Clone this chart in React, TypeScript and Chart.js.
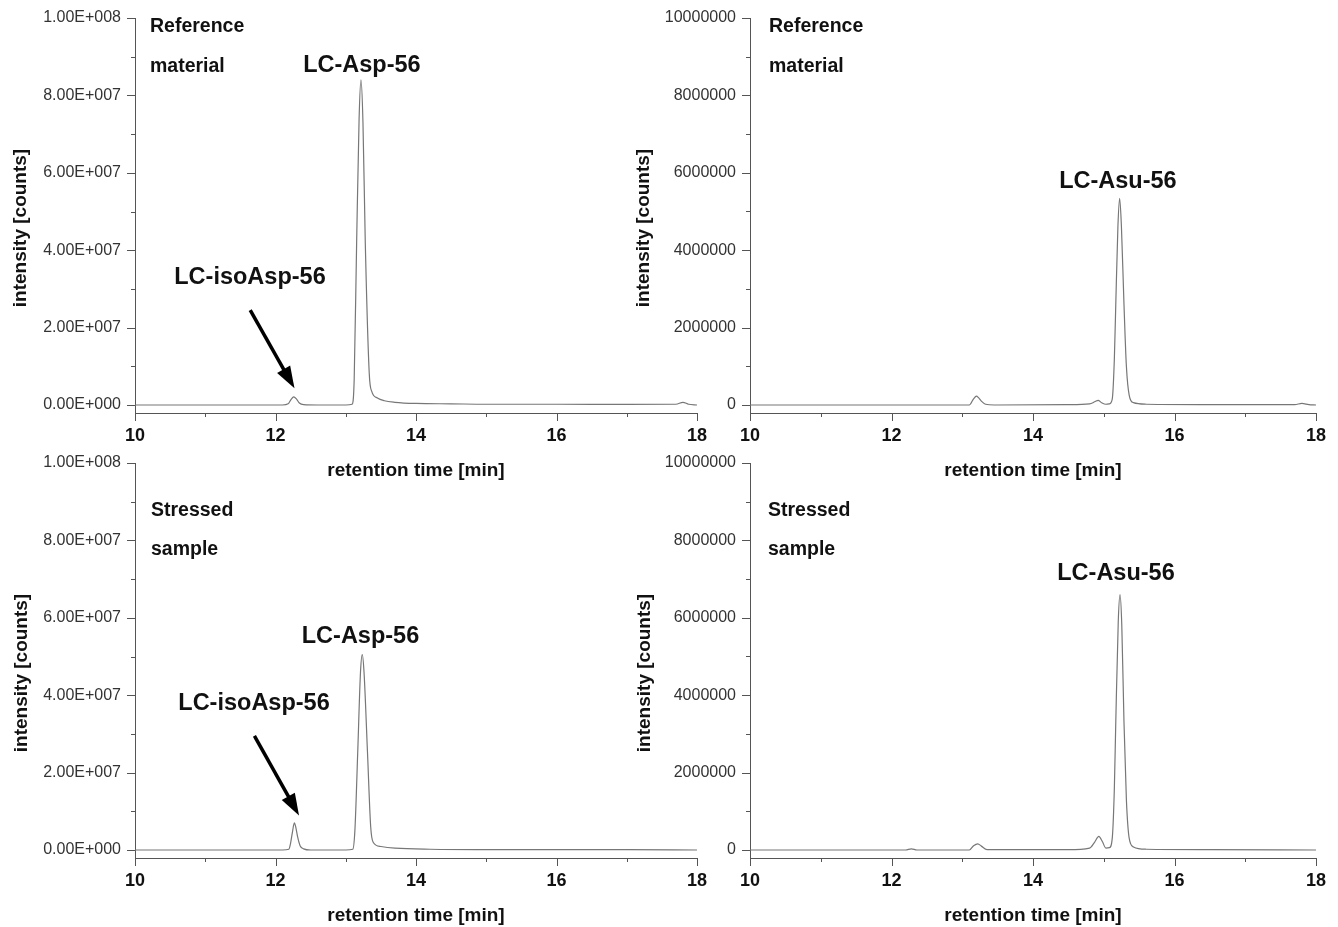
import { useEffect, useRef } from "react";
import { Chart, registerables } from "chart.js";

Chart.register(...registerables);

const FONT = "'Liberation Sans', Arial, Helvetica, sans-serif";
const AXIS_COLOR = "#555555";
const TRACE_COLOR = "#777777";
const TEXT_COLOR = "#111111";

// ---- axis ticks ----
const timeTicks = [10, 12, 14, 16, 18];
const timeMinorTicks = [11, 13, 15, 17];

const aspTickValues = [0, 2e7, 4e7, 6e7, 8e7, 1e8];
const aspTickLabels = ["0.00E+000", "2.00E+007", "4.00E+007", "6.00E+007", "8.00E+007", "1.00E+008"];
const aspMinorTicks = [1e7, 3e7, 5e7, 7e7, 9e7];

const asuTickValues = [0, 2e6, 4e6, 6e6, 8e6, 1e7];
const asuTickLabels = ["0", "2000000", "4000000", "6000000", "8000000", "10000000"];
const asuMinorTicks = [1e6, 3e6, 5e6, 7e6, 9e6];

const xTitle = "retention time [min]";
const yTitle = "intensity [counts]";
const sampleRef = ["Reference", "material"];
const sampleStressed = ["Stressed", "sample"];

// ---- Reference material, LC-Asp-56 trace ----
const refAspTime = [10, 11, 12.1, 12.18, 12.22, 12.26, 12.3, 12.34, 12.4, 12.6, 13.0, 13.09, 13.12, 13.155, 13.19, 13.217, 13.245, 13.278, 13.335, 13.37, 13.45, 13.55, 13.7, 14.0, 14.5, 15.0, 16.0, 17.0, 17.7, 17.8, 17.88, 18];
const refAspIntensity = [0, 0, 0, 3e5, 1.4e6, 2.1e6, 1.5e6, 5e5, 1e5, 0, 0, 2e5, 6.5e6, 4.2e7, 7.4e7, 8.4e7, 7.3e7, 4.2e7, 8e6, 3.5e6, 1.8e6, 1.1e6, 7e5, 4e5, 3e5, 2e5, 2e5, 1.5e5, 2e5, 7e5, 2e5, 0];

// ---- Reference material, LC-Asu-56 trace ----
const refAsuTime = [10, 12, 13.1, 13.16, 13.2, 13.23, 13.27, 13.33, 13.45, 14.5, 14.8, 14.88, 14.92, 14.97, 15.03, 15.08, 15.12, 15.15, 15.17, 15.2, 15.225, 15.25, 15.286, 15.32, 15.36, 15.42, 15.6, 16.5, 17.7, 17.8, 17.9, 18];
const refAsuIntensity = [0, 0, 0, 1.6e5, 2.3e5, 1.9e5, 1e5, 2e4, 0, 1e4, 3e4, 9e4, 1.2e5, 6e4, 2e4, 3e4, 1.5e5, 1.2e6, 2.6e6, 4.6e6, 5.34e6, 4.6e6, 2.6e6, 1e6, 2.5e5, 6e4, 2e4, 1e4, 1e4, 4e4, 1e4, 0];

// ---- Stressed sample, LC-Asp-56 trace ----
const strAspTime = [10, 11, 12.1, 12.19, 12.215, 12.24, 12.268, 12.29, 12.316, 12.35, 12.4, 12.5, 13.0, 13.1, 13.13, 13.17, 13.21, 13.235, 13.26, 13.31, 13.355, 13.39, 13.5, 13.7, 14.2, 15, 16, 17, 18];
const strAspIntensity = [0, 0, 0, 2e5, 1.8e6, 4.5e6, 7.0e6, 5.8e6, 3.3e6, 1.1e6, 3e5, 0, 0, 2e5, 5e6, 2.5e7, 4.6e7, 5.05e7, 4.6e7, 2.5e7, 6e6, 2e6, 9e5, 5e5, 2e5, 1e5, 1e5, 1e5, 0];

// ---- Stressed sample, LC-Asu-56 trace ----
const strAsuTime = [10, 12.2, 12.28, 12.36, 13.1, 13.16, 13.22, 13.27, 13.35, 14.5, 14.8, 14.87, 14.93, 14.98, 15.03, 15.08, 15.12, 15.15, 15.17, 15.205, 15.23, 15.255, 15.286, 15.32, 15.36, 15.42, 15.6, 16.5, 18];
const strAsuIntensity = [0, 0, 3e4, 0, 0, 1.1e5, 1.6e5, 1e5, 1e4, 1e4, 5e4, 2e5, 3.5e5, 2.2e5, 5e4, 6e4, 3e5, 1.6e6, 3.3e6, 5.9e6, 6.6e6, 5.8e6, 3.3e6, 1.3e6, 3e5, 8e4, 2e4, 1e4, 0];

// ---- peak annotations (time, intensity of text baseline) ----
const refAspLabels = [
  { text: "LC-Asp-56", t: 13.23, v: 8.6e7 },
  { text: "LC-isoAsp-56", t: 11.637, v: 3.13e7 },
];
const refAsuLabels = [{ text: "LC-Asu-56", t: 15.2, v: 5.61e6 }];
const strAspLabels = [
  { text: "LC-Asp-56", t: 13.21, v: 5.35e7 },
  { text: "LC-isoAsp-56", t: 11.694, v: 3.62e7 },
];
const strAsuLabels = [{ text: "LC-Asu-56", t: 15.173, v: 6.98e6 }];

const refAspArrow = { from: [11.64, 2.45e7], to: [12.27, 4.3e6] };
const strAspArrow = { from: [11.7, 2.95e7], to: [12.335, 8.9e6] };

const AREA_TOP = 18;
const AREA_BOTTOM = 413;
const ZERO_OFFSET = 8 / 387; // baseline sits slightly above x axis

type PanelDef = {
  left: number; top: number; width: number; height: number;
  areaLeft: number; areaRight: number;
  time: number[]; intensity: number[];
  yMax: number; yTickValues: number[]; yTickLabels: string[]; yMinor: number[];
  sample: string[]; sampleDx: number; sampleY: [number, number];
  peaks: { text: string; t: number; v: number }[];
  arrow: { from: number[]; to: number[] } | null;
  yTitleX: number;
};

const PANELS: PanelDef[] = [
  {
    left: 0, top: 0, width: 720, height: 485, areaLeft: 135, areaRight: 697,
    time: refAspTime, intensity: refAspIntensity,
    yMax: 1e8, yTickValues: aspTickValues, yTickLabels: aspTickLabels, yMinor: aspMinorTicks,
    sample: sampleRef, sampleDx: 15, sampleY: [14, 54],
    peaks: refAspLabels, arrow: refAspArrow, yTitleX: 21,
  },
  {
    left: 620, top: 0, width: 718, height: 485, areaLeft: 130, areaRight: 696,
    time: refAsuTime, intensity: refAsuIntensity,
    yMax: 1e7, yTickValues: asuTickValues, yTickLabels: asuTickLabels, yMinor: asuMinorTicks,
    sample: sampleRef, sampleDx: 19, sampleY: [14, 54],
    peaks: refAsuLabels, arrow: null, yTitleX: 24,
  },
  {
    left: 0, top: 445, width: 720, height: 482, areaLeft: 135, areaRight: 697,
    time: strAspTime, intensity: strAspIntensity,
    yMax: 1e8, yTickValues: aspTickValues, yTickLabels: aspTickLabels, yMinor: aspMinorTicks,
    sample: sampleStressed, sampleDx: 16, sampleY: [53, 92],
    peaks: strAspLabels, arrow: strAspArrow, yTitleX: 22,
  },
  {
    left: 620, top: 445, width: 718, height: 482, areaLeft: 130, areaRight: 696,
    time: strAsuTime, intensity: strAsuIntensity,
    yMax: 1e7, yTickValues: asuTickValues, yTickLabels: asuTickLabels, yMinor: asuMinorTicks,
    sample: sampleStressed, sampleDx: 18, sampleY: [53, 92],
    peaks: strAsuLabels, arrow: null, yTitleX: 25,
  },
];

function drawArrow(ctx: CanvasRenderingContext2D, x1: number, y1: number, x2: number, y2: number) {
  const dx = x2 - x1, dy = y2 - y1;
  const len = Math.hypot(dx, dy);
  const ux = dx / len, uy = dy / len;
  const headLen = 22, headHalf = 7.5;
  const bx = x2 - ux * headLen, by = y2 - uy * headLen;
  ctx.strokeStyle = "#000";
  ctx.fillStyle = "#000";
  ctx.lineWidth = 3.5;
  ctx.lineCap = "butt";
  ctx.beginPath();
  ctx.moveTo(x1, y1);
  ctx.lineTo(bx + ux * 3, by + uy * 3);
  ctx.stroke();
  ctx.beginPath();
  ctx.moveTo(x2, y2);
  ctx.lineTo(bx - uy * headHalf, by + ux * headHalf);
  ctx.lineTo(bx + uy * headHalf, by - ux * headHalf);
  ctx.closePath();
  ctx.fill();
}

function makeDecor(p: PanelDef) {
  return {
    id: "decor",
    afterDraw(chart: any) {
      const { ctx, chartArea, scales } = chart;
      const xs = scales.x, ys = scales.y;
      ctx.save();
      // tick marks
      ctx.strokeStyle = AXIS_COLOR;
      ctx.lineWidth = 1;
      ctx.beginPath();
      p.yTickValues.forEach((v) => {
        const py = Math.round(ys.getPixelForValue(v)) + 0.5;
        ctx.moveTo(chartArea.left - 8, py);
        ctx.lineTo(chartArea.left, py);
      });
      p.yMinor.forEach((v) => {
        const py = Math.round(ys.getPixelForValue(v)) + 0.5;
        ctx.moveTo(chartArea.left - 4, py);
        ctx.lineTo(chartArea.left, py);
      });
      timeTicks.forEach((v) => {
        const px = Math.round(xs.getPixelForValue(v)) + 0.5;
        ctx.moveTo(px, chartArea.bottom);
        ctx.lineTo(px, chartArea.bottom + 8);
      });
      timeMinorTicks.forEach((v) => {
        const px = Math.round(xs.getPixelForValue(v)) + 0.5;
        ctx.moveTo(px, chartArea.bottom);
        ctx.lineTo(px, chartArea.bottom + 4);
      });
      ctx.stroke();

      ctx.fillStyle = TEXT_COLOR;
      // axis titles
      ctx.font = `bold 19px ${FONT}`;
      ctx.textAlign = "center";
      ctx.textBaseline = "alphabetic";
      ctx.fillText(xTitle, (chartArea.left + chartArea.right) / 2, chartArea.bottom + 63);
      ctx.save();
      ctx.translate(p.yTitleX, (chartArea.top + chartArea.bottom) / 2 + 12.5);
      ctx.rotate(-Math.PI / 2);
      ctx.textBaseline = "middle";
      ctx.fillText(yTitle, 0, 0);
      ctx.restore();

      // sample labels
      ctx.font = `bold 19.5px ${FONT}`;
      ctx.textAlign = "left";
      ctx.textBaseline = "alphabetic";
      p.sample.forEach((s, i) => {
        ctx.fillText(s, chartArea.left + p.sampleDx, chartArea.top + p.sampleY[i]);
      });

      // peak labels
      ctx.font = `bold 23.5px ${FONT}`;
      ctx.textAlign = "center";
      p.peaks.forEach((pk) => {
        ctx.fillText(pk.text, xs.getPixelForValue(pk.t), ys.getPixelForValue(pk.v));
      });

      if (p.arrow) {
        drawArrow(
          ctx,
          xs.getPixelForValue(p.arrow.from[0]), ys.getPixelForValue(p.arrow.from[1]),
          xs.getPixelForValue(p.arrow.to[0]), ys.getPixelForValue(p.arrow.to[1])
        );
      }
      ctx.restore();
    },
  };
}

function Panel({ p }: { p: PanelDef }) {
  const ref = useRef<HTMLCanvasElement>(null);
  useEffect(() => {
    if (!ref.current) return;
    const data = p.time.map((t, i) => ({ x: t, y: p.intensity[i] }));
    const chart = new Chart(ref.current, {
      type: "line",
      data: {
        datasets: [
          {
            data,
            borderColor: TRACE_COLOR,
            borderWidth: 1.2,
            pointRadius: 0,
            pointHoverRadius: 0,
            fill: false,
            cubicInterpolationMode: "monotone",
          } as any,
        ],
      },
      options: {
        responsive: false,
        maintainAspectRatio: false,
        animation: false,
        events: [],
        layout: {
          autoPadding: false,
          padding: { top: AREA_TOP, right: p.width - p.areaRight, bottom: 0, left: 0 },
        },
        plugins: {
          legend: { display: false },
          tooltip: { enabled: false },
          title: { display: false },
        },
        scales: {
          x: {
            type: "linear",
            min: 10,
            max: 18,
            grid: { display: false, drawTicks: false },
            border: { display: true, color: AXIS_COLOR, width: 1 },
            ticks: {
              autoSkip: false,
              maxRotation: 0,
              padding: 12,
              color: TEXT_COLOR,
              font: { family: FONT, size: 18, weight: "bold" },
              callback: (v: any) => String(v),
            },
            afterBuildTicks: (s: any) => {
              s.ticks = timeTicks.map((v) => ({ value: v }));
            },
            afterFit: (s: any) => {
              s.height = p.height - AREA_BOTTOM;
              s.paddingLeft = 0;
              s.paddingRight = 0;
              s.paddingTop = 0;
              s.paddingBottom = 0;
            },
          },
          y: {
            type: "linear",
            min: -p.yMax * ZERO_OFFSET,
            max: p.yMax,
            grid: { display: false, drawTicks: false },
            border: { display: true, color: AXIS_COLOR, width: 1 },
            ticks: {
              autoSkip: false,
              padding: 14,
              color: "#333333",
              font: { family: FONT, size: 16 },
              callback: (v: any) => {
                const i = p.yTickValues.indexOf(Number(v));
                return i >= 0 ? p.yTickLabels[i] : "";
              },
            },
            afterBuildTicks: (s: any) => {
              s.ticks = p.yTickValues.map((v) => ({ value: v }));
            },
            afterFit: (s: any) => {
              s.width = p.areaLeft;
              s.paddingLeft = 0;
              s.paddingRight = 0;
              s.paddingTop = 0;
              s.paddingBottom = 0;
            },
          },
        },
      } as any,
      plugins: [makeDecor(p)],
    });
    return () => chart.destroy();
  }, [p]);
  return (
    <canvas
      ref={ref}
      width={p.width}
      height={p.height}
      style={{ position: "absolute", left: p.left, top: p.top, width: p.width, height: p.height }}
    />
  );
}

export default function App() {
  return (
    <div style={{ position: "absolute", left: 0, top: 0, width: 1338, height: 927, background: "#ffffff", overflow: "hidden" }}>
      {PANELS.map((p, i) => (
        <Panel key={i} p={p} />
      ))}
    </div>
  );
}
